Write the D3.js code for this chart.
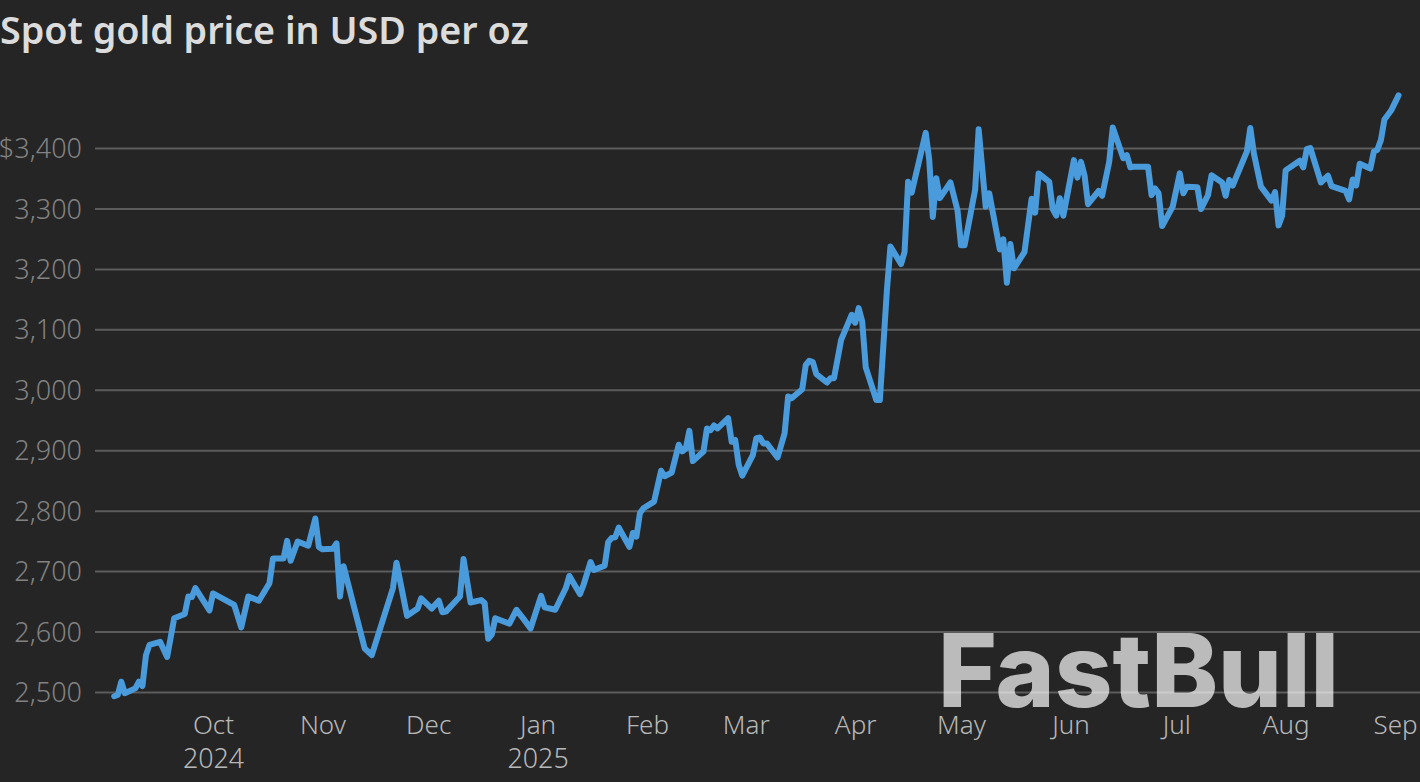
<!DOCTYPE html>
<html>
<head>
<meta charset="utf-8">
<script src="https://cdn.jsdelivr.net/npm/d3@7"></script>
<style>
html,body{margin:0;padding:0;background:#252525;overflow:hidden}
svg{display:block}
</style>
</head>
<body>
<svg id="chart" width="1420" height="782"></svg>
<script>
const titleText = "Spot gold price in USD per oz";
const watermark = "FastBull";
const originDate = "2024-10-01";
// days after originDate
const days = [-28,-27,-26,-25,-22,-21,-20,-19,-18,-15,-13,-11,-8,-7,-6,-5,-1,0,6,8,10,13,16,17,20,21,22,24,27,29,30,31,34,35,36,37,43,45,51,52,55,58,59,62,64,65,66,70,71,73,76,77,78,79,80,84,86,88,90,93,94,97,99,100,101,104,105,107,108,111,112,113,114,115,118,119,120,121,122,125,127,128,130,132,133,134,135,136,139,140,141,142,143,146,147,148,149,150,153,154,155,156,157,160,162,163,164,167,168,169,170,171,174,175,176,178,181,182,183,184,185,188,189,191,192,195,196,197,198,202,203,204,205,206,209,211,212,213,216,217,219,220,223,224,225,226,227,230,232,233,234,237,238,239,240,241,244,245,246,247,248,251,252,254,255,258,259,260,261,265,266,267,268,269,272,274,275,276,279,280,282,283,286,287,288,289,293,294,295,297,300,301,302,303,304,308,309,310,311,314,316,317,321,322,323,324,325,328,329,330,331,332,334,336];
const prices = [2493,2495,2517,2498,2506,2517,2510,2561,2578,2583,2558,2622,2629,2658,2657,2672,2635,2663,2644,2607,2658,2651,2680,2721,2721,2750,2717,2749,2742,2787,2740,2736,2737,2746,2658,2708,2572,2561,2672,2714,2626,2638,2655,2638,2651,2632,2633,2658,2720,2648,2652,2647,2588,2595,2622,2613,2636,2621,2605,2659,2640,2636,2660,2672,2692,2662,2677,2715,2702,2709,2748,2755,2756,2772,2740,2763,2757,2796,2804,2815,2866,2857,2863,2909,2898,2903,2932,2882,2898,2936,2933,2941,2936,2953,2914,2917,2876,2858,2892,2920,2921,2911,2911,2888,2928,2989,2986,3001,3041,3048,3046,3026,3012,3019,3019,3082,3124,3111,3135,3113,3037,2983,2983,3165,3237,3208,3228,3344,3326,3425,3380,3286,3350,3317,3343,3297,3239,3239,3331,3431,3303,3325,3232,3249,3177,3241,3201,3228,3316,3293,3358,3344,3299,3288,3317,3288,3380,3351,3377,3355,3307,3329,3321,3377,3434,3383,3388,3368,3369,3369,3322,3333,3325,3271,3303,3358,3325,3336,3335,3299,3322,3355,3343,3321,3347,3338,3394,3433,3391,3336,3313,3327,3272,3288,3363,3379,3368,3398,3400,3343,3354,3337,3329,3315,3348,3338,3374,3366,3394,3397,3413,3447,3463,3487];
const yTicks = [2500,2600,2700,2800,2900,3000,3100,3200,3300,3400];
const monthTicks = ["2024-10-01","2024-11-01","2024-12-01","2025-01-01","2025-02-01","2025-03-01","2025-04-01","2025-05-01","2025-06-01","2025-07-01","2025-08-01","2025-09-01"];
const monthLabels = ["Oct","Nov","Dec","Jan","Feb","Mar","Apr","May","Jun","Jul","Aug","Sep"];
const yearLabels = ["2024","","","2025","","","","","","","",""];

const W = 1420, H = 782;
const FONT = '"Noto Sans",sans-serif';
const parse = d3.utcParse("%Y-%m-%d");
const origin = parse(originDate);
const points = days.map((d,i)=>({date:d3.utcDay.offset(origin,d), price:prices[i]}));
const tickDates = monthTicks.map(parse);

const x = d3.scaleUtc().domain([tickDates[0], tickDates[tickDates.length-1]]).range([213,1395]);
const y = d3.scaleLinear().domain([2500,3400]).range([692,148]);

const svg = d3.select("#chart");
svg.append("rect").attr("width",W).attr("height",H).attr("fill","#252525");

svg.append("text").attr("x",0).attr("y",44).attr("font-family",FONT)
  .attr("font-size",37.7).attr("font-weight",600).attr("fill","#dcdcdc")
  .text(titleText);

const gridLeft = 95;
const yAxis = d3.axisLeft(y).tickValues(yTicks)
  .tickSize(-(W-gridLeft)).tickPadding(13)
  .tickFormat(d=> (d===3400?"$":"") + d3.format(",")(d));
const gy = svg.append("g").attr("transform",`translate(${gridLeft},0)`).call(yAxis);
gy.select(".domain").remove();
gy.selectAll(".tick line").attr("stroke","#5c5c5c").attr("stroke-width",2);
gy.selectAll(".tick text").attr("fill","#828282").attr("font-size",27).attr("font-weight",300)
  .attr("font-family",FONT).attr("y",1);

const xAxis = d3.axisBottom(x).tickValues(tickDates).tickSize(0).tickPadding(0)
  .tickFormat((d,i)=>monthLabels[i]);
const gx = svg.append("g").attr("transform","translate(0,712)").call(xAxis);
gx.select(".domain").remove();
gx.selectAll(".tick text").attr("fill","#b8b8b8").attr("font-size",26).attr("font-weight",300)
  .attr("font-family",FONT).attr("dy",null).attr("y",22);
gx.selectAll(".tick").filter((d,i)=>yearLabels[i]).append("text")
  .attr("fill","#b8b8b8").attr("font-size",26.8).attr("font-weight",300)
  .attr("font-family",FONT).attr("text-anchor","middle").attr("y",55.5)
  .text((d)=>yearLabels[tickDates.indexOf(d)]);

const line = d3.line().x(d=>x(d.date)).y(d=>y(d.price)).curve(d3.curveLinear);
svg.append("path").datum(points).attr("d",line).attr("fill","none")
  .attr("stroke","#4a9bdc").attr("stroke-width",6)
  .attr("stroke-linejoin","round").attr("stroke-linecap","round");

svg.append("text").attr("x",938).attr("y",707)
  .attr("font-family","Inter,sans-serif").attr("font-size",102).attr("font-weight",800)
  .attr("textLength",401).attr("lengthAdjust","spacingAndGlyphs")
  .attr("fill","#fff").attr("fill-opacity",0.69).text(watermark);
</script>
</body>
</html>
